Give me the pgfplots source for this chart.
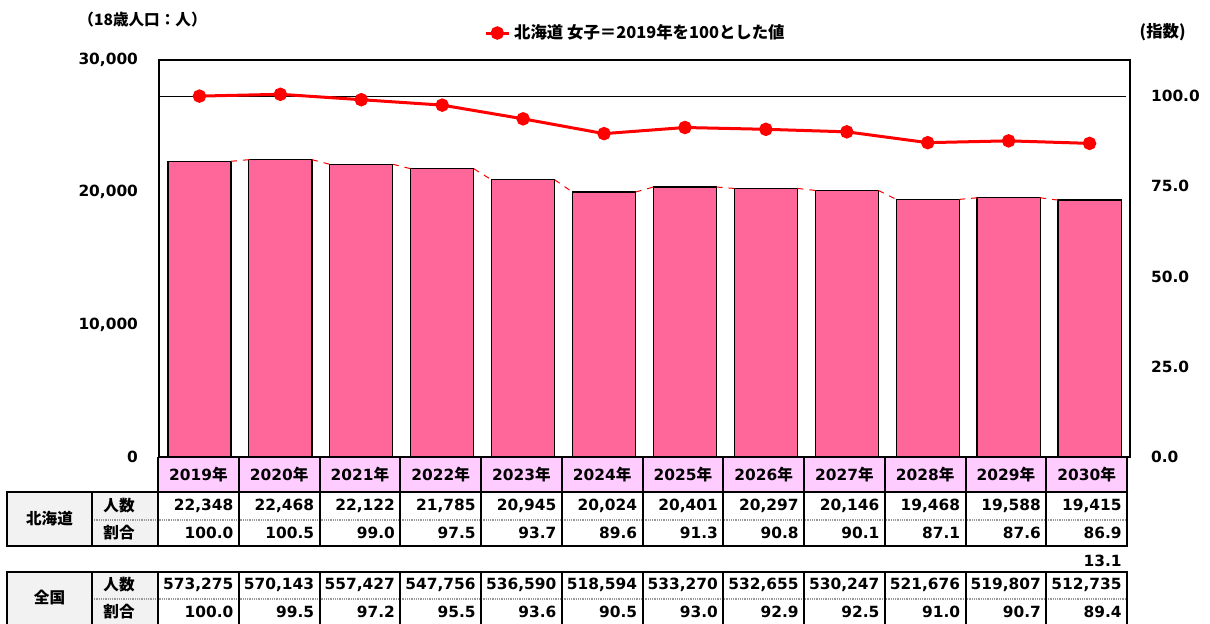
\documentclass[border=0pt]{standalone}
\usepackage{pgfplots}
\usepackage{pgfplotstable}
\pgfplotsset{compat=1.18}
\usepackage{fontspec}
\setmainfont{DejaVu Sans}
\newfontfamily\cjk{Noto Sans CJK JP}
\definecolor{barpink}{HTML}{FF6699}
\definecolor{hdrpink}{HTML}{FFCCFF}
\definecolor{cellgray}{HTML}{F2F2F2}
\definecolor{linered}{HTML}{FF0000}
\newcommand\tb{\bfseries\fontsize{7.7}{9}\selectfont}
\newcommand\jb{\cjk\bfseries\fontsize{7.8}{9}\selectfont}
\newcommand\jl{\cjk\bfseries\fontsize{8.2}{9}\selectfont}

\pgfplotstableread{
x  hk     idx
0  22348  100.0
1  22468  100.5
2  22122  99.0
3  21785  97.5
4  20945  93.7
5  20024  89.6
6  20401  91.3
7  20297  90.8
8  20146  90.1
9  19468  87.1
10 19588  87.6
11 19415  86.9
}\datatable

\begin{document}
\begin{tikzpicture}
\path[use as bounding box] (0,0) rectangle (605pt,-311.5pt);
\begin{axis}[
  at={(79.5pt,-228.5pt)}, anchor=south west,
  scale only axis, width=485.5pt, height=198.5pt,
  xmin=-0.5, xmax=11.5, ymin=0, ymax=30000,
  xtick=\empty, ytick={0,10000,20000,30000},
  scaled y ticks=false,
  yticklabel style={font=\tb, xshift=-7pt, /pgf/number format/fixed, /pgf/number format/1000 sep={,}, /pgf/number format/assume math mode=true},
  major tick length=0pt,
  axis line style={line width=0.7pt},
  clip=false,
]
\addplot[ybar, bar width=0.78, bar shift=0pt, fill=barpink, draw=black, line width=0.6pt] table[x=x,y=hk]{\datatable};
\addplot[linered, dashed, line width=0.5pt, unbounded coords=jump] coordinates {
(0.39,22348)(0.61,22468)(0.5,nan)
(1.39,22468)(1.61,22122)(1.5,nan)
(2.39,22122)(2.61,21785)(2.5,nan)
(3.39,21785)(3.61,20945)(3.5,nan)
(4.39,20945)(4.61,20024)(4.5,nan)
(5.39,20024)(5.61,20401)(5.5,nan)
(6.39,20401)(6.61,20297)(6.5,nan)
(7.39,20297)(7.61,20146)(7.5,nan)
(8.39,20146)(8.61,19468)(8.5,nan)
(9.39,19468)(9.61,19588)(9.5,nan)
(10.39,19588)(10.61,19415)
};
\end{axis}
\begin{axis}[
  at={(79.5pt,-228.5pt)}, anchor=south west,
  scale only axis, width=485.5pt, height=198.5pt,
  xmin=-0.5, xmax=11.5, ymin=0, ymax=110,
  axis x line=none, axis y line*=right,
  ytick={0,25,50,75,100},
  scaled y ticks=false,
  yticklabel style={font=\tb, xshift=7pt, /pgf/number format/fixed, /pgf/number format/fixed zerofill, /pgf/number format/precision=1, /pgf/number format/assume math mode=true},
  major tick length=0pt,
  axis line style={line width=0.7pt},
  clip=false,
  legend style={at={(0.4918,1.068)}, anchor=center, draw=none, fill=none, font=\jl, inner sep=0pt},
  legend image code/.code={\draw[mark repeat=2,mark phase=2,#1] plot coordinates {(0cm,0cm)(0.2cm,0cm)(0.4cm,0cm)};},
]
\addplot[black, line width=0.6pt, forget plot] coordinates {(-0.5,100)(11.45,100)};
\addplot[linered, line width=1.5pt, mark=*, mark size=2.6pt, mark options={fill=linered, solid}] table[x=x,y=idx]{\datatable};
\addlegendentry{北海道 女子＝2019年を100とした値}
\end{axis}
\begin{scope}[x=0.5pt,y=-0.5pt]
\node[anchor=west, font=\jb, inner sep=0pt] at (78,20) {（18歳人口：人）};
\node[anchor=east, font=\jl, inner sep=0pt] at (1186,32) {(指数)};
% header row
\fill[hdrpink] (158,457) rectangle (1127,492);
\foreach \yr [count=\i from 0] in {2019,2020,2021,2022,2023,2024,2025,2026,2027,2028,2029,2030} {
  \node[font=\tb] at ({158+80.75*(\i+0.5)},475) {\yr{\jb 年}};
}
\foreach \k in {0,...,12} { \draw[line width=1pt] ({158+80.75*\k},457) -- ({158+80.75*\k},492); }
\draw[line width=1pt] (158,457) -- (1127,457);
% Hokkaido table
\fill[cellgray] (7,492) rectangle (158,546);
\draw[line width=1pt, gray!80, dash pattern=on 0.5pt off 0.4pt] (92,520) -- (1127,520);
\draw[line width=1pt] (7,492) rectangle (1127,546);
\draw[line width=1pt] (92,492) -- (92,546);
\foreach \k in {0,...,12} { \draw[line width=1pt] ({158+80.75*\k},492) -- ({158+80.75*\k},546); }
\node[font=\jb] at (49.5,519) {北海道};
\node[font=\jb] at (119,506) {人数};
\node[font=\jb] at (119,533) {割合};
\foreach \v [count=\i from 0] in {{22,348},{22,468},{22,122},{21,785},{20,945},{20,024},{20,401},{20,297},{20,146},{19,468},{19,588},{19,415}} {
  \node[font=\tb, anchor=east, inner sep=0pt] at ({158+80.75*(\i+1)-5},506) {\v};
}
\foreach \v [count=\i from 0] in {100.0,100.5,99.0,97.5,93.7,89.6,91.3,90.8,90.1,87.1,87.6,86.9} {
  \node[font=\tb, anchor=east, inner sep=0pt] at ({158+80.75*(\i+1)-5},533) {\v};
}
\node[font=\tb, anchor=east, inner sep=0pt] at (1122,561) {13.1};
% National table
\fill[cellgray] (7,572) rectangle (158,630);
\draw[line width=1pt, gray!80, dash pattern=on 0.5pt off 0.4pt] (92,599) -- (1127,599);
\draw[line width=1pt] (7,572) rectangle (1127,626);
\draw[line width=1pt] (92,572) -- (92,626);
\foreach \k in {0,...,12} { \draw[line width=1pt] ({158+80.75*\k},572) -- ({158+80.75*\k},626); }
\node[font=\jb] at (49.5,598) {全国};
\node[font=\jb] at (119,585) {人数};
\node[font=\jb] at (119,612) {割合};
\foreach \v [count=\i from 0] in {{573,275},{570,143},{557,427},{547,756},{536,590},{518,594},{533,270},{532,655},{530,247},{521,676},{519,807},{512,735}} {
  \node[font=\tb, anchor=east, inner sep=0pt] at ({158+80.75*(\i+1)-5},585) {\v};
}
\foreach \v [count=\i from 0] in {100.0,99.5,97.2,95.5,93.6,90.5,93.0,92.9,92.5,91.0,90.7,89.4} {
  \node[font=\tb, anchor=east, inner sep=0pt] at ({158+80.75*(\i+1)-5},612) {\v};
}
\end{scope}
\end{tikzpicture}
\end{document}
